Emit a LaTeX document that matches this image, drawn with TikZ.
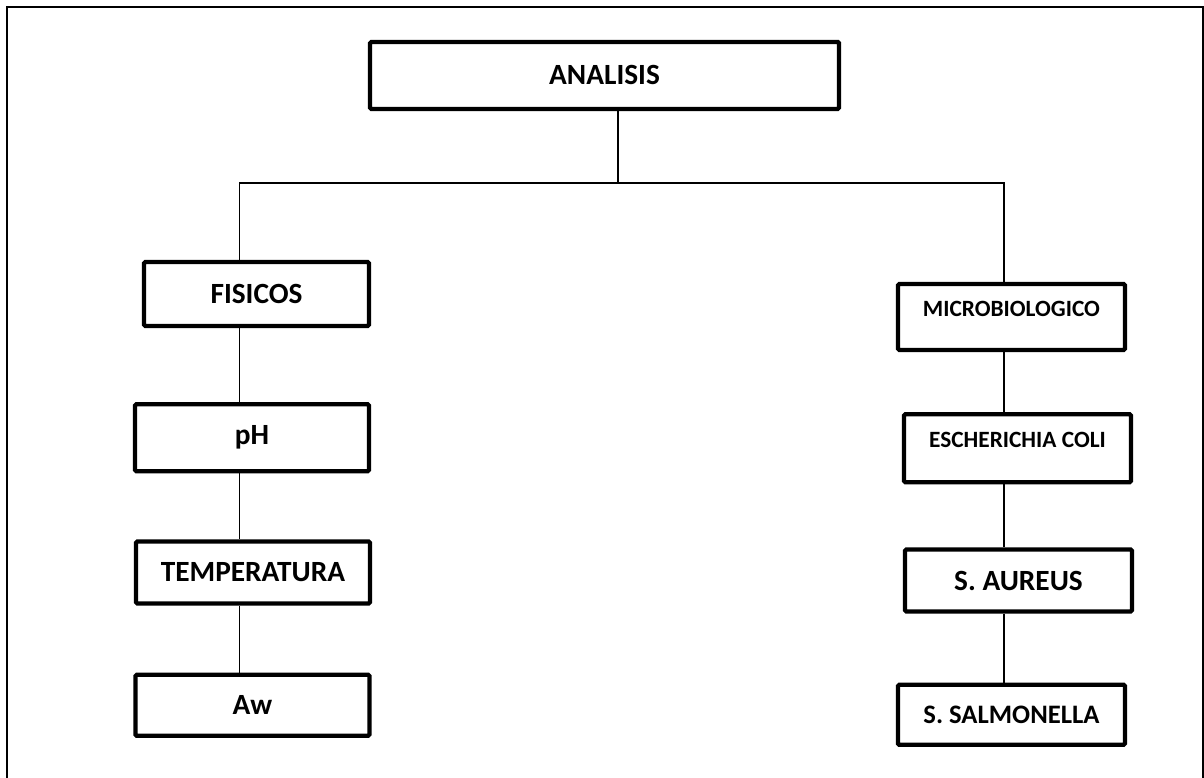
\documentclass[tikz,border=0pt]{standalone}
\usepackage{fontspec}
\setmainfont{Carlito}
\usetikzlibrary{positioning, calc}
\tikzset{
  box/.style={
    rectangle, draw=black, line width=3.2pt, rounded corners=1pt,
    inner sep=2pt, font=\bfseries\fontsize{22}{26}\selectfont
  },
  smalltxt/.style={font=\bfseries\fontsize{17.5}{21}\selectfont},
  midtxt/.style={font=\bfseries\fontsize{20}{24}\selectfont},
  bigtxt/.style={font=\bfseries\fontsize{22}{26}\selectfont},
  lbox/.style={box, minimum width=175.5pt},
  rbox/.style={box, smalltxt, minimum width=170.25pt},
  link/.style={line width=1.1pt, black},
  frame/.style={line width=1.4pt, black},
}

\begin{document}
\begin{tikzpicture}

  % Page and frame
  \useasboundingbox (0,0) rectangle (903pt,-583.5pt);
  \draw[frame] (5.25pt,-583.5pt) -- (5.25pt,-5.25pt) -- (902pt,-5.25pt) -- (902pt,-583.5pt);

  % Top
  \node[box, minimum width=351.75pt, minimum height=50.25pt] (analisis)
    at (453.4pt,-56.6pt) {ANALISIS};

  % Branch points
  \coordinate (busL) at (179.6pt,-137.25pt);
  \coordinate (busM) at (463.5pt,-137.25pt);
  \coordinate (busR) at (753pt,-137.25pt);

  % Left column
  \node[lbox, minimum width=168.75pt, minimum height=48pt] (fisicos)
    at (192.4pt,-220.5pt) {FISICOS};
  \node[lbox, minimum height=50.25pt, below=55.5pt of fisicos, xshift=-3.4pt] (ph) {pH};
  \node[lbox, minimum height=46.5pt, below=49.5pt of ph, xshift=0.75pt] (temp) {TEMPERATURA};
  \node[lbox, minimum height=45.75pt, below=50.25pt of temp, xshift=-0.4pt] (aw) {Aw};

  % Right column
  \node[rbox, minimum height=49.5pt, text depth=12pt] (micro)
    at (758.6pt,-237.75pt) {MICROBIOLOGICO};
  \node[rbox, minimum height=51pt, text depth=12pt, below=45pt of micro, xshift=4.5pt] (esch) {ESCHERICHIA COLI};
  \node[rbox, bigtxt, minimum height=46.5pt, below=47.25pt of esch, xshift=0.75pt] (aureus) {S. AUREUS};
  \node[rbox, midtxt, minimum height=45pt, below=51.75pt of aureus, xshift=-5.25pt] (salm) {S. SALMONELLA};

  % Connectors
  \draw[link] (analisis.south -| busM) -- (busM);
  \draw[link] (fisicos.north -| busL) -- (busL) -- (busR) -- (micro.north -| busR);
  \draw[link] (fisicos.south -| busL) -- (ph.north -| busL);
  \draw[link] (ph.south -| busL) -- (temp.north -| busL);
  \draw[link] (temp.south -| busL) -- (aw.north -| busL);
  \draw[link] (micro.south -| busR) -- (esch.north -| busR);
  \draw[link] (esch.south -| busR) -- (aureus.north -| busR);
  \draw[link] (aureus.south -| busR) -- (salm.north -| busR);

\end{tikzpicture}
\end{document}
